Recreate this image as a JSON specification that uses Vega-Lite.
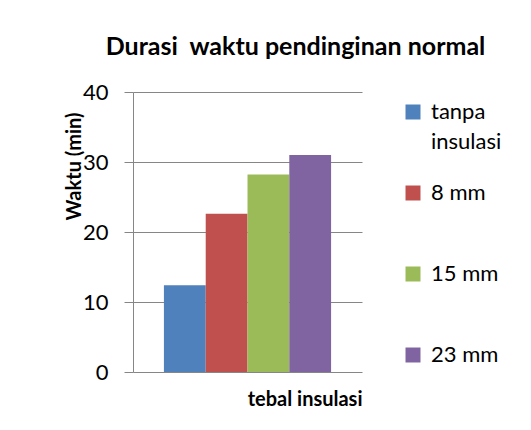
{
  "$schema": "https://vega.github.io/schema/vega-lite/v6.json",
  "autosize": "none",
  "width": 229,
  "height": 280,
  "padding": {"left": 133, "top": 92, "right": 169, "bottom": 58},
  "background": "white",
  "title": {
    "text": "Durasi\u00a0 waktu pendinginan normal",
    "font": "Lato",
    "fontSize": 25,
    "fontWeight": "bold",
    "color": "#000000",
    "anchor": "middle",
    "frame": "group",
    "dx": 48,
    "offset": 21
  },
  "data": {
    "values": [
      {"seri": "tanpa insulasi", "waktu": 12.4},
      {"seri": "8 mm", "waktu": 22.6},
      {"seri": "15 mm", "waktu": 28.2},
      {"seri": "23 mm", "waktu": 31.0}
    ]
  },
  "mark": {"type": "bar"},
  "encoding": {
    "x": {
      "field": "seri",
      "type": "nominal",
      "sort": ["tanpa insulasi", "8 mm", "15 mm", "23 mm"],
      "scale": {"paddingInner": 0, "paddingOuter": 0.74},
      "axis": {
        "title": "tebal insulasi",
        "titleFont": "Lato",
        "titleFontSize": 20,
        "titleFontWeight": "bold",
        "titleColor": "#000000",
        "titleAnchor": "end",
        "titlePadding": 17,
        "labels": false,
        "ticks": false,
        "domain": false
      }
    },
    "y": {
      "field": "waktu",
      "type": "quantitative",
      "scale": {"domain": [0, 40], "nice": false},
      "axis": {
        "title": "Waktu (min)",
        "titleFont": "Lato",
        "titleFontSize": 20,
        "titleFontWeight": "bold",
        "titleColor": "#000000",
        "titleAngle": 270,
        "titleX": -59,
        "titleY": 74,
        "titleAlign": "center",
        "titleBaseline": "middle",
        "values": [0, 10, 20, 30, 40],
        "labelFont": "Lato",
        "labelFontSize": 22,
        "labelColor": "#000000",
        "labelPadding": 16,
        "tickSize": 9,
        "tickColor": "#868686",
        "domainColor": "#868686",
        "gridColor": "#868686",
        "grid": true
      }
    },
    "color": {
      "field": "seri",
      "type": "nominal",
      "sort": ["tanpa insulasi", "8 mm", "15 mm", "23 mm"],
      "scale": {
        "domain": ["tanpa insulasi", "8 mm", "15 mm", "23 mm"],
        "range": ["#4F81BD", "#C0504D", "#9BBB59", "#8064A2"]
      },
      "legend": {
        "title": null,
        "orient": "right",
        "offset": 31,
        "symbolType": "square",
        "symbolSize": 225,
        "symbolStrokeWidth": 0,
        "labelFont": "Lato",
        "labelFontSize": 22,
        "labelColor": "#000000",
        "labelOffset": 7,
        "labelBaseline": "middle",
        "rowPadding": 29,
        "padding": 9,
        "labelExpr": "datum.label == 'tanpa insulasi' ? ['tanpa', 'insulasi'] : [datum.label, ' ']"
      }
    }
  },
  "config": {
    "view": {"stroke": null},
    "axis": {"gridWidth": 1, "domainWidth": 1, "tickWidth": 1},
    "style": {"guide-label": {"lineHeight": 30}}
  }
}
